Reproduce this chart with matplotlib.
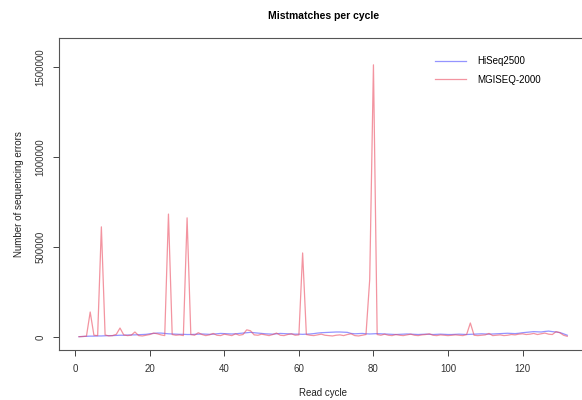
import matplotlib
matplotlib.use('Agg')
import matplotlib.pyplot as plt
import numpy as np

plt.rcParams['font.family'] = ['Liberation Sans', 'DejaVu Sans']

# errors per read cycle, in thousands
cycles = list(range(1, 133))

hiseq_k = [2, 3, 4, 5, 5, 6, 6, 7, 8, 8,
           9, 10, 10, 11, 12, 12, 13, 14, 15, 18,
           20, 22, 22, 20, 18, 17, 16, 15, 15, 14,
           14, 15, 16, 17, 16, 15, 16, 18, 20, 19,
           18, 17, 18, 20, 22, 24, 26, 24, 22, 20,
           18, 17, 16, 18, 20, 19, 18, 17, 16, 16,
           15, 16, 17, 19, 22, 24, 25, 26, 27, 28,
           28, 27, 26, 20, 18, 19, 20, 18, 17, 18,
           19, 18, 17, 16, 15, 14, 15, 16, 17, 16,
           15, 14, 15, 16, 15, 14, 15, 16, 15, 14,
           14, 15, 16, 15, 14, 15, 16, 17, 18, 17,
           16, 17, 18, 19, 20, 21, 20, 19, 21, 24,
           26, 28, 30, 29, 28, 31, 33, 30, 28, 25,
           18, 10]

mgiseq_k = [2, 3, 5, 139, 10, 8, 612, 12, 6, 8,
            15, 50, 12, 8, 10, 28, 8, 6, 10, 14,
            22, 18, 12, 8, 683, 14, 10, 12, 8, 662,
            14, 10, 24, 14, 8, 12, 20, 10, 8, 16,
            12, 8, 18, 10, 14, 40, 35, 12, 10, 16,
            12, 8, 14, 22, 10, 8, 14, 18, 10, 12,
            467, 14, 10, 8, 12, 16, 10, 8, 6, 10,
            12, 8, 14, 18, 8, 6, 10, 14, 320, 1512,
            14, 10, 16, 10, 8, 14, 10, 8, 12, 16,
            10, 8, 12, 14, 18, 10, 8, 12, 10, 8,
            10, 12, 10, 8, 14, 78, 10, 8, 10, 12,
            20, 8, 10, 12, 8, 10, 14, 12, 16, 18,
            14, 16, 20, 14, 18, 22, 16, 14, 30, 24,
            10, 4]

hiseq = np.array(hiseq_k) * 1000
mgiseq = np.array(mgiseq_k) * 1000

fig = plt.figure(figsize=(5.82, 4.0), dpi=100)
ax = fig.add_axes([0.1022, 0.125, 0.906, 0.78])

ax.plot(cycles, hiseq, color=(0.3, 0.3, 1.0), alpha=0.6, lw=0.9, label='HiSeq2500')
ax.plot(cycles, mgiseq, color=(0.92, 0.3, 0.38), alpha=0.6, lw=0.9, label='MGISEQ-2000')

ax.set_xlim(-4.24, 137.24)
ax.set_ylim(-72000, 1661000)
ax.set_xticks([0, 20, 40, 60, 80, 100, 120])
ax.set_yticks([0, 500000, 1000000, 1500000])
ax.set_yticklabels(['0', '500000', '1000000', '1500000'], rotation=90, va='center')
ax.tick_params(labelsize=7, length=4, width=0.7, colors='#444444', labelcolor='#333333', pad=6)

for s in ax.spines.values():
    s.set_color('#555555')
    s.set_linewidth(0.8)

ax.set_xlabel('Read cycle', fontsize=7, color='#222222', labelpad=10)
ax.set_ylabel('Number of sequencing errors', fontsize=7, color='#222222', labelpad=8)
ax.set_title('Mistmatches per cycle', fontsize=7.5, fontweight='bold', pad=14)

ax.legend(loc='upper right', bbox_to_anchor=(0.93, 0.97), frameon=False,
          fontsize=7, handlelength=3.2, handletextpad=1.2, labelspacing=0.9)

fig.savefig('out.png', dpi=100)
